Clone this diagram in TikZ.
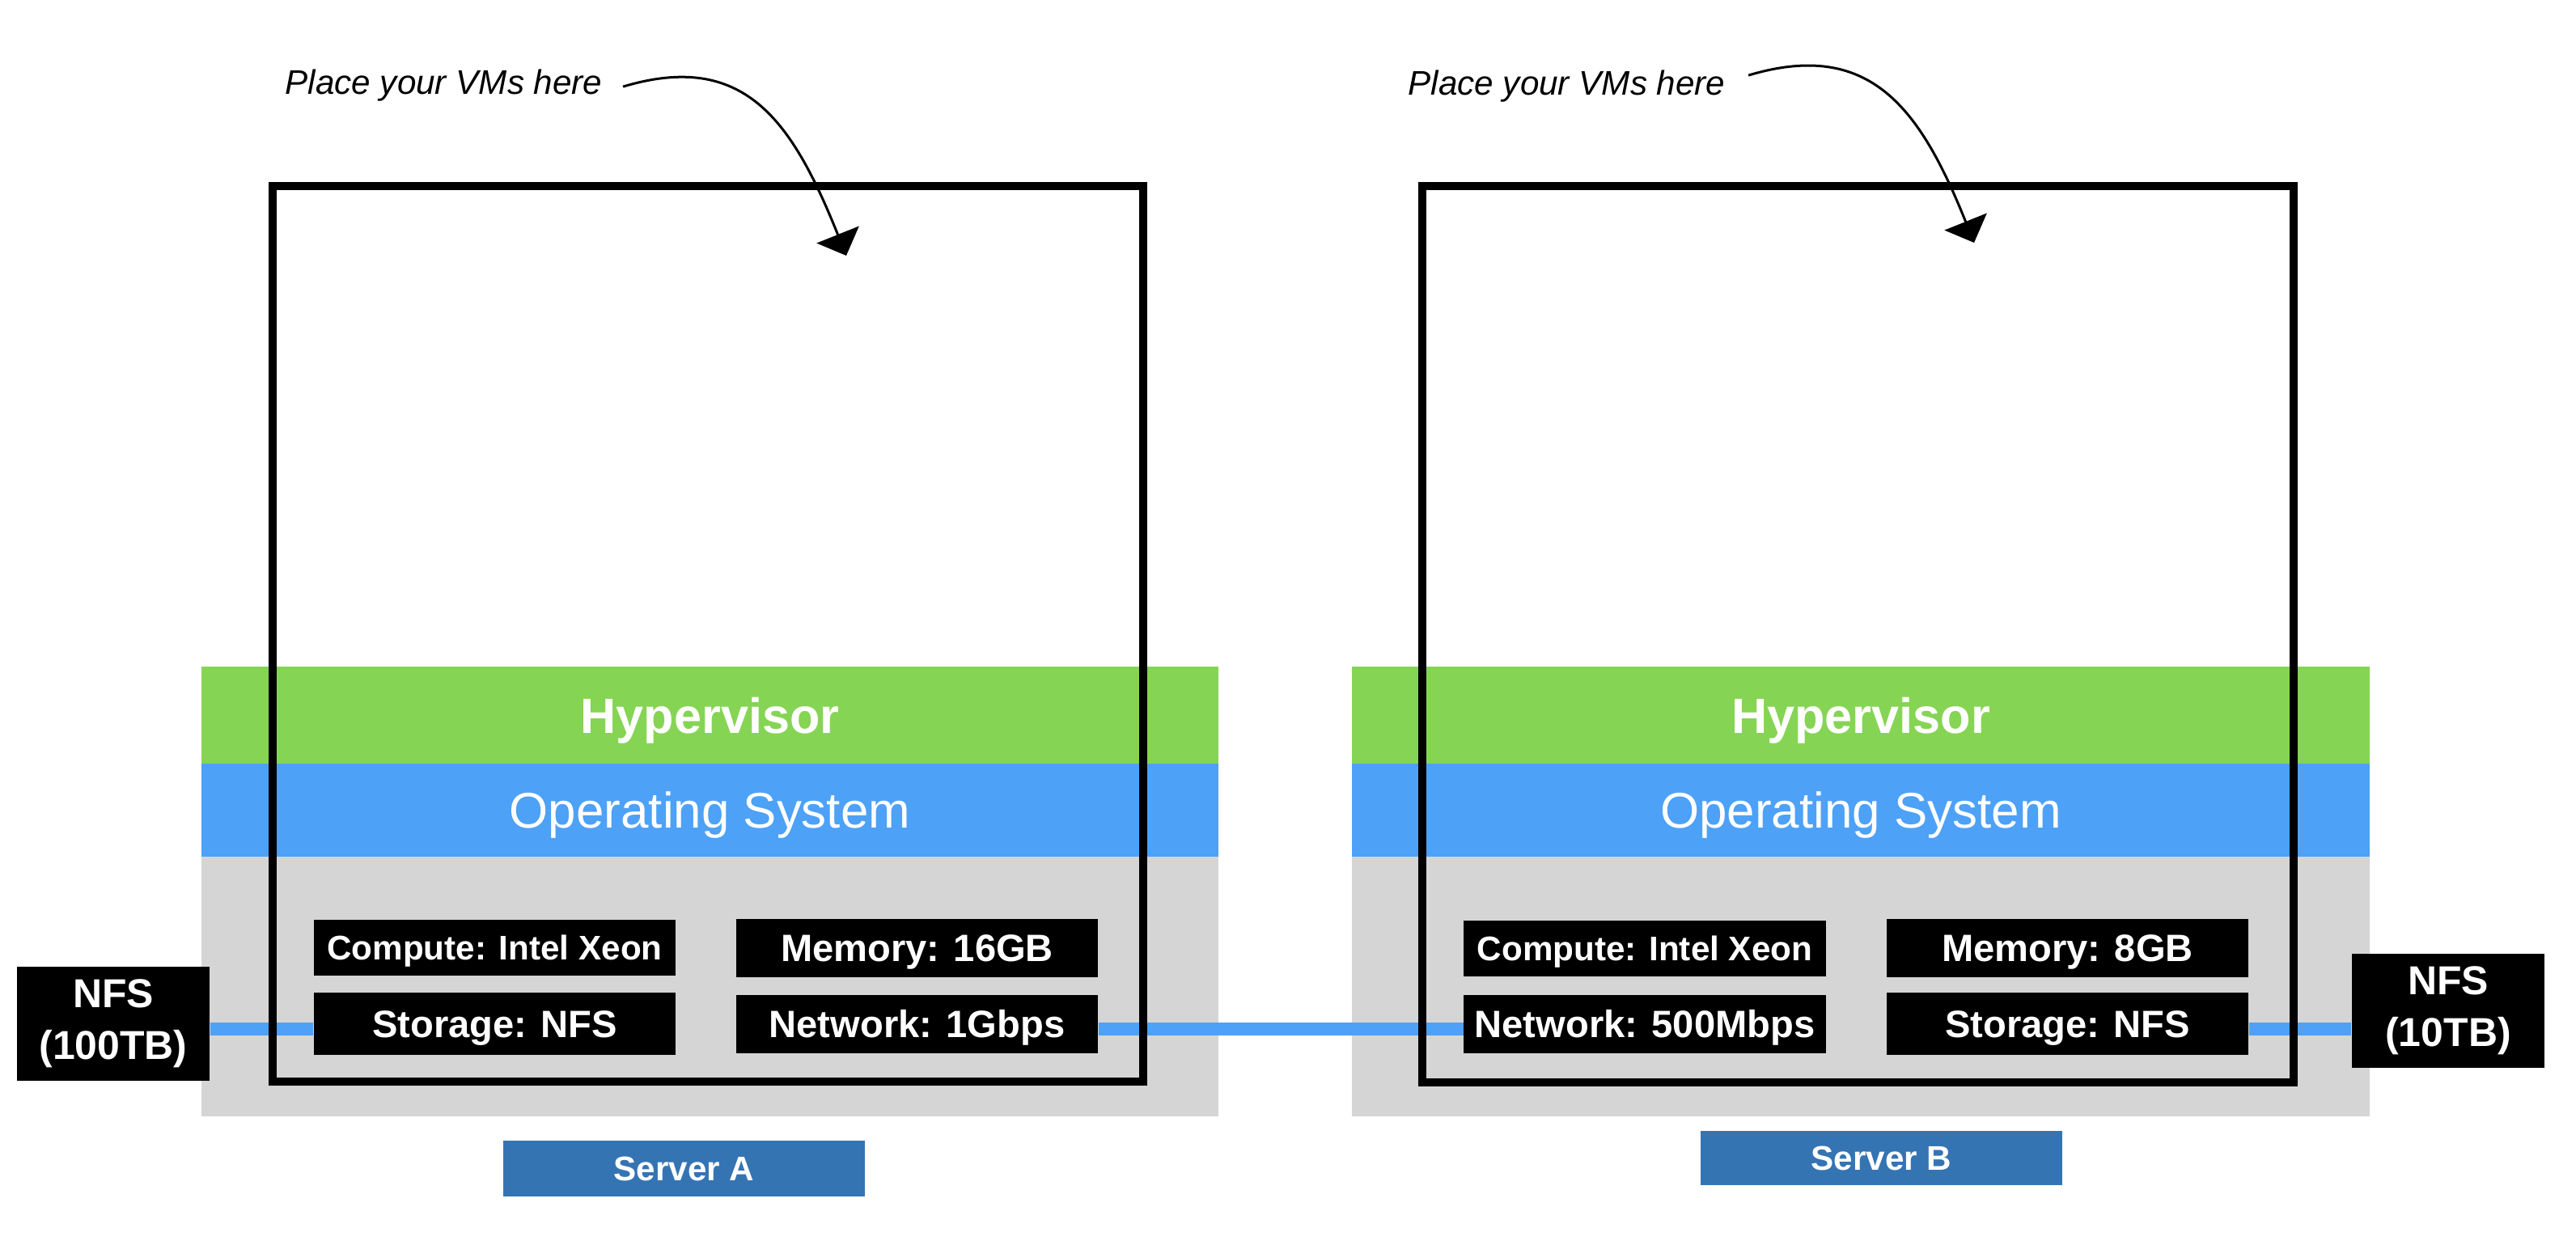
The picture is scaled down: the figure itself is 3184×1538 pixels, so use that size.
\documentclass[tikz,border=0pt]{standalone}
\usepackage{fontspec}
\setmainfont{Liberation Sans}
\usetikzlibrary{arrows.meta}
\definecolor{hvgreen}{HTML}{86D454}
\definecolor{osblue}{HTML}{4DA1F7}
\definecolor{hwgray}{HTML}{D5D5D5}
\definecolor{srvblue}{HTML}{3574B3}
\begin{document}
\begin{tikzpicture}[x=0.01cm,y=-0.01cm,
  band/.style={rectangle, inner sep=0pt, minimum width=12.57cm, text=white},
  hyper/.style={band, fill=hvgreen, minimum height=1.2cm, font=\bfseries\fontsize{17.4}{20}\selectfont, text height=12.5pt, text depth=0pt},
  ossys/.style={band, fill=osblue, minimum height=1.15cm, font=\fontsize{17.6}{20}\selectfont, text height=12.6pt, text depth=0pt},
  hw/.style={band, fill=hwgray, minimum height=3.21cm},
  spec/.style={rectangle, fill=black, text=white, inner sep=0pt, minimum width=4.47cm, minimum height=0.72cm, font=\bfseries\fontsize{13.4}{16}\selectfont, text height=9.6pt, text depth=0pt},
  specsm/.style={spec, font=\bfseries\fontsize{12}{14}\selectfont, text height=8.6pt, minimum height=0.69cm},
  nfs/.style={rectangle, fill=black, text=white, inner sep=0pt, minimum width=2.38cm, minimum height=1.41cm, align=center, font=\bfseries\fontsize{14.2}{18.2}\selectfont},
  srv/.style={rectangle, fill=srvblue, text=white, inner sep=0pt, minimum width=4.47cm, minimum height=0.69cm, font=\bfseries\fontsize{12}{14}\selectfont, text height=8.6pt, text depth=0pt},
  vmframe/.style={draw=black, line width=0.1cm, inner sep=0pt},
  note/.style={font=\itshape\fontsize{12}{14}\selectfont, inner sep=0pt, anchor=base west},
  link/.style={draw=osblue, line width=0.16cm},
  pointer/.style={draw=black, line width=0.03cm, -{Triangle[length=0.28cm,width=0.56cm]}}
]
\useasboundingbox (0,0) rectangle (3184,1538);

% Server A layers
\node[hw] (hwA) at (877.5,1219.5) {};
\node[hyper] (hvA) at (877.5,884) {Hypervisor};
\node[ossys] (osA) at (877.5,1001.5) {Operating System};
% Server B layers
\node[hw] (hwB) at (2300,1219.5) {};
\node[hyper] (hvB) at (2300,884) {Hypervisor};
\node[ossys] (osB) at (2300,1001.5) {Operating System};

% Server A specs
\node[specsm] (compA) at (611.5,1171.5) {Compute: Intel Xeon};
\node[spec] (memA) at (1133.5,1172) {Memory: 16GB};
\node[spec, minimum height=0.77cm] (storA) at (611.5,1265.5) {Storage: NFS};
\node[spec] (netA) at (1133.5,1266) {Network: 1Gbps};
% Server B specs
\node[specsm] (compB) at (2033,1172.5) {Compute: Intel Xeon};
\node[spec] (memB) at (2555.5,1172) {Memory: 8GB};
\node[spec] (netB) at (2033,1266) {Network: 500Mbps};
\node[spec, minimum height=0.77cm] (storB) at (2555.5,1265.5) {Storage: NFS};

% NFS stores
\node[nfs] (nfsA) at (140,1265.5) {NFS\\(100TB)};
\node[nfs] (nfsB) at (3026,1249.5) {NFS\\(10TB)};

% Server labels
\node[srv] (srvA) at (845.5,1444.5) {Server A};
\node[srv, minimum height=0.67cm] (srvB) at (2325.5,1431.5) {Server B};

% network links
\draw[link] ([shift={(0,6)}]nfsA.east) -- ([shift={(0,6)}]storA.west);
\draw[link] ([shift={(0,6)}]netA.east) -- ([shift={(0,6)}]netB.west);
\coordinate (sB) at ([shift={(0,6)}]storB.east);
\draw[link] (sB) -- (sB -| nfsB.west);

% VM frames
\node[vmframe, minimum width=10.76cm, minimum height=11.07cm] (vmA) at (875,783.5) {};
\node[vmframe, minimum width=10.77cm, minimum height=11.08cm] (vmB) at (2296.5,784) {};

% notes and pointers
\node[note] (noteA) at (352,116) {Place your VMs here};
\node[note] (noteB) at (1740,117) {Place your VMs here};
\coordinate (tipA) at (1046,316);
\coordinate (tipB) at (2440,300);
\draw[pointer] ([shift={(25,2)}]noteA.east) .. controls +(150,-45) and +(-67,-167) .. (tipA);
\draw[pointer] ([shift={(28,-13)}]noteB.east) .. controls +(150,-45) and +(-67,-167) .. (tipB);
\end{tikzpicture}
\end{document}
